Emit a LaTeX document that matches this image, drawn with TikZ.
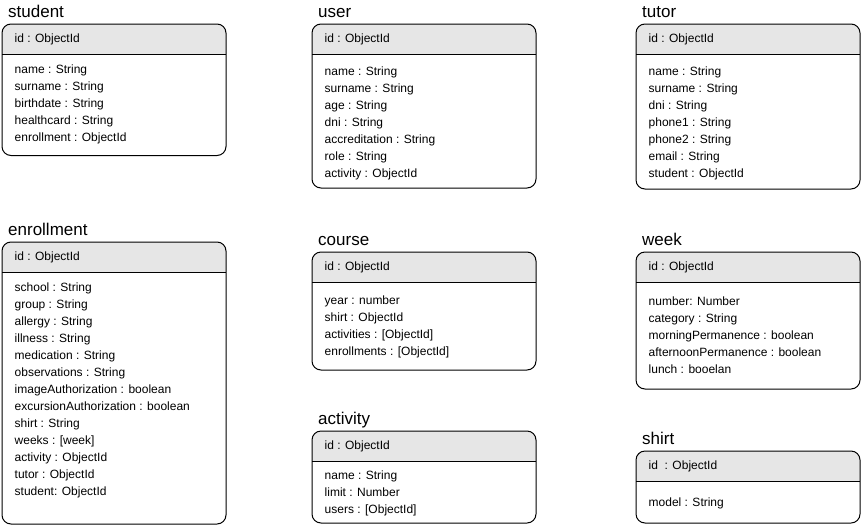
\documentclass[tikz,border=0pt]{standalone}
\usepackage{fontspec}
\setmainfont{Liberation Sans}
\usetikzlibrary{positioning, calc}
\definecolor{inkline}{HTML}{000000}
\definecolor{hdrfill}{HTML}{E6E6E6}
\tikzset{
  entitytitle/.style={inner sep=0pt, font=\fontsize{17}{20}\selectfont},
  fieldtext/.style={inner sep=0pt, font=\fontsize{12}{14}\selectfont},
}
% [#1] id text, #2 name, #3 left, #4 top, #5 bottom, #6 first baseline, #7 title, #8 fields
\newcommand{\entitybox}[8][id : ObjectId]{%
  \begin{scope}
    \clip[rounded corners=9] (#3,#4) rectangle (#3+224,#5);
    \fill[hdrfill] (#3,#4) rectangle (#3+224,#4+30);
  \end{scope}
  \draw[inkline, line width=1pt, rounded corners=9] (#3,#4) rectangle (#3+224,#5);
  \draw[inkline, line width=1pt] (#3,#4+30) -- (#3+224,#4+30);
  \node[entitytitle, anchor=base west] (#2) at (#3+6,#4-6.5) {#7};
  \node[fieldtext, anchor=west] (#2-id) at (#3+12.5,#4+15) {#1};
  \foreach \f [count=\i from 0] in {#8}
    \node[fieldtext, anchor=base west] (#2-f\i) at (#3+12.5,#6+17*\i) {\f};}

\begin{document}
\begin{tikzpicture}[x=1pt, y=-1pt]
  \useasboundingbox (0,0) rectangle (861,525);
  % top row
  \entitybox{student}{2}{24}{155.5}{73.5}{student}{name : String, surname : String,
    birthdate : String, healthcard : String, enrollment : ObjectId}
  \entitybox{user}{312}{24}{188}{75}{user}{name : String, surname : String,
    age : String, dni : String, accreditation : String, role : String,
    activity : ObjectId}
  \entitybox{tutor}{636}{24}{189}{75}{tutor}{name : String, surname : String,
    dni : String, phone1 : String, phone2 : String, email : String,
    student : ObjectId}
  % lower rows
  \entitybox{enrollment}{2}{242}{524}{291.5}{enrollment}{school : String,
    group : String, allergy : String, illness : String, medication : String,
    observations : String, imageAuthorization : boolean,
    excursionAuthorization : boolean, shirt : String, weeks : [week],
    activity : ObjectId, tutor : ObjectId, student: ObjectId}
  \entitybox{course}{312}{252}{370}{304}{course}{year : number,
    shirt : ObjectId, activities : [ObjectId], enrollments : [ObjectId]}
  \entitybox{activity}{312}{431}{523}{479}{activity}{name : String,
    limit : Number, users : [ObjectId]}
  \entitybox{week}{636}{252}{389}{305}{week}{number: Number,
    category : String, morningPermanence : boolean,
    afternoonPermanence : boolean, lunch : booelan}
  \entitybox[id\ \ : ObjectId]{shirt}{636}{451}{523}{506}{shirt}{model : String}
\end{tikzpicture}
\end{document}
